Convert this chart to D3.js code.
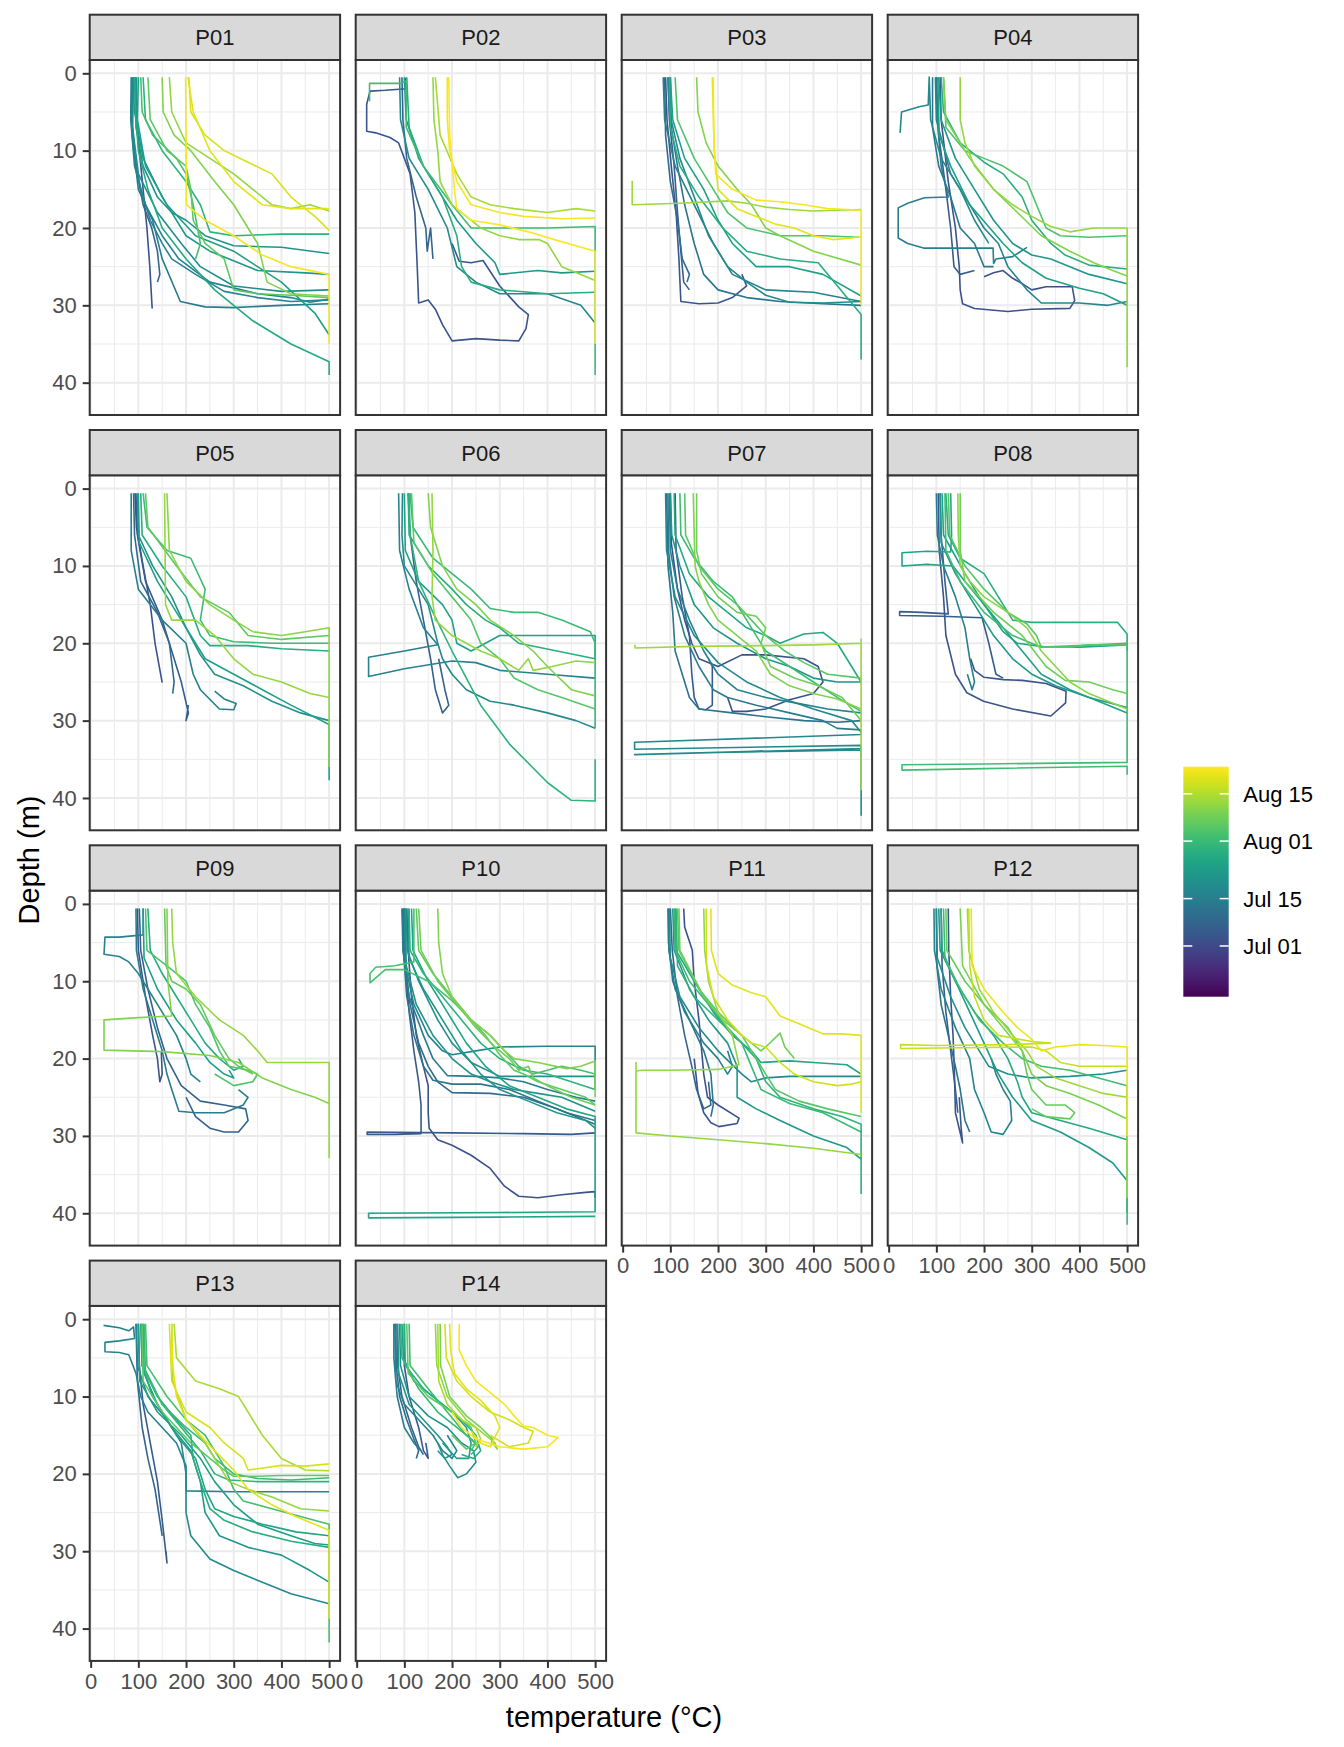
<!DOCTYPE html>
<html><head><meta charset="utf-8">
<script src="https://cdn.jsdelivr.net/npm/d3@7"></script>
<style>body{margin:0;background:#fff}svg{display:block}text{font-family:"Liberation Sans",Arial,sans-serif}</style>
</head><body><svg id="c" width="1344" height="1747"></svg>
<script>
const panelNames = ["P01","P02","P03","P04","P05","P06","P07","P08","P09","P10","P11","P12","P13","P14"];
const xTicks = [0,100,200,300,400,500];
const xMinor = [50,150,250,350,450];
const yTicks = [0,10,20,30,40];
const yMinor = [5,15,25,35];
const dateRange = ["06-16","08-23"];
const legendTicks = ["07-01","07-15","08-01","08-15"];

// each profile: [date (MM-DD), [[temperature, depth], ...]]
const P01 = [
 ["07-03",[[93,0.5],[95,5],[102,10],[110,15],[118,20],[124,25],[129,30.4]]],
 ["07-09",[[88,0.5],[86,6],[95,12],[110,17],[128,20],[140,23],[145,26],[140,27]]],
 ["07-14",[[88,0.5],[87,8],[100,15],[130,19],[150,24],[188,29.5],[240,30.2],[300,30.3],[400,30],[500,29.8]]],
 ["07-16",[[85,0.5],[84,6],[92,12],[115,17],[150,21],[185,24],[250,27],[350,28.5],[420,29],[460,29.6],[500,29.2]]],
 ["07-17",[[87,0.5],[86,5],[90,10],[105,15],[125,19],[150,22],[170,24],[220,26],[280,28.2],[350,29],[420,29.5],[500,29.3]]],
 ["07-19",[[90,0.5],[88,7],[100,13],[140,18],[190,22],[230,25],[300,27.5],[400,28.2],[500,28]]],
 ["07-21",[[96,0.5],[95,7],[110,12],[140,16],[170,18],[200,19],[240,21],[300,22.3],[400,22.5],[500,23.3]]],
 ["07-22",[[95,0.5],[92,5],[110,11],[150,16],[200,21],[250,23],[350,25.5],[450,25.8],[500,26]]],
 ["07-24",[[100,0.5],[98,6],[115,12],[160,17],[220,21],[300,23],[400,27],[470,31],[500,33.8]]],
 ["07-27",[[92,0.5],[94,5],[100,10],[120,15],[150,20],[200,24],[260,28],[340,32],[420,35],[500,37.3],[500,39]]],
 ["07-30",[[110,0.5],[115,6],[150,10],[200,14],[230,17],[250,20.5],[300,21],[400,20.8],[500,20.8]]],
 ["08-03",[[105,0.5],[108,5],[130,8],[180,11],[200,13],[215,17],[230,22],[220,24]]],
 ["08-06",[[120,0.5],[125,6],[160,10],[200,12],[210,15],[215,19],[240,22],[280,24],[300,28],[350,28.5],[420,28.7],[500,29]]],
 ["08-10",[[150,0.5],[152,5],[175,8],[210,10],[260,14],[300,17],[330,20],[350,22],[370,27],[420,28.5],[500,28.8]]],
 ["08-12",[[165,0.5],[170,5],[200,9],[250,11],[300,13],[340,15],[380,17],[420,17.5],[460,17],[500,17.8]]],
 ["08-19",[[206,0.5],[210,5],[240,8],[280,10],[330,11.5],[380,13],[420,16],[470,18.5],[500,20.3]]],
 ["08-20",[[204,0.5],[215,5],[250,10],[300,14],[360,17],[420,17.5],[470,17.5],[500,17.5]]],
 ["08-22",[[199,0.5],[200,8],[201,17],[240,19],[300,21],[360,23.5],[420,25],[500,26],[500,35]]]
];
const P02 = [
 ["07-04",[[102,0.6],[104,2],[60,2.2],[28,2.3],[21,4],[21,7.5],[40,7.7],[70,8.3],[88,9],[100,11],[112,13],[122,18],[127,25],[130,29.7],[150,29.3],[165,30.5],[180,32.5],[200,34.6],[250,34.3],[300,34.5],[340,34.6],[355,33],[360,31.2],[340,30.2],[300,27.5],[265,24.2],[240,24.5],[215,24.3],[200,22]]],
 ["07-08",[[95,0.5],[97,6],[105,11],[125,16],[145,20],[148,23],[155,20],[160,24]]],
 ["07-18",[[90,0.5],[92,6],[110,11],[150,15],[190,20],[210,25],[250,27],[300,28.5],[400,28.5],[470,30],[500,32.3]]],
 ["07-22",[[100,0.5],[104,6],[130,11],[170,15],[210,19],[250,22],[290,24.5],[300,26],[380,25.5],[430,25.8],[500,25.6]]],
 ["07-28",[[105,0.5],[110,7],[140,12],[180,16],[210,21],[220,25],[240,27],[300,28],[400,28.5],[500,28.3]]],
 ["08-02",[[27,3.6],[27,1.3],[60,1.3],[92,1.3],[104,1],[104,7],[140,12],[200,17],[240,20],[300,20],[400,20],[500,19.8],[500,39]]],
 ["08-12",[[160,0.5],[162,6],[170,10],[175,14],[200,17],[260,20],[300,21],[340,21.5],[382,21.5],[400,22],[430,25],[470,26],[500,26.8]]],
 ["08-14",[[165,0.5],[175,8],[210,13],[240,16],[280,17],[330,17.5],[400,18],[460,17.5],[500,17.8]]],
 ["08-22",[[190,0.5],[190,6],[195,10],[210,14],[240,17],[300,18],[350,18.5],[430,18.8],[500,18.7]]],
 ["08-23",[[193,0.5],[195,8],[205,15],[210,17.5],[240,19],[300,19.6],[360,20.5],[420,21.6],[500,23],[500,35]]]
];
const P03 = [
 ["07-04",[[90,0.5],[93,6],[102,12],[112,18],[118,24],[122,29.5],[160,29.8],[200,29.7],[230,29],[260,27.5],[250,26]]],
 ["07-06",[[95,0.5],[98,6],[108,12],[115,18],[122,23],[128,27],[140,28]]],
 ["07-10",[[88,0.5],[90,8],[100,14],[115,19],[125,24],[140,26],[135,27]]],
 ["07-12",[[100,0.5],[102,7],[115,12],[130,17],[150,22],[170,26],[200,28],[260,29],[330,29.5],[420,29.8],[500,30]]],
 ["07-16",[[85,0.5],[88,6],[110,12],[150,17],[190,22],[230,26],[300,28],[400,28.3],[500,29.5]]],
 ["07-18",[[95,0.5],[98,5],[120,11],[150,16],[180,21],[220,25],[260,27],[300,28.7],[350,29.6],[420,29.7],[500,29.5]]],
 ["07-24",[[100,0.5],[105,6],[130,11],[170,15],[200,19],[230,22],[280,25],[350,25],[420,26],[500,28.8]]],
 ["07-28",[[98,0.5],[100,7],[120,12],[160,16],[210,20],[260,23],[330,24],[410,24.5],[500,31.2],[500,37]]],
 ["08-04",[[110,0.5],[115,6],[150,11],[190,15],[220,18],[260,20],[330,21],[420,21],[495,21.2]]],
 ["08-10",[[155,0.5],[158,5],[175,9],[200,12],[240,15],[270,17],[300,20],[330,21],[400,23],[500,24.8]]],
 ["08-13",[[20,13.9],[20,17],[120,16.8],[220,16.5],[260,16.8],[300,17.3],[350,17.6],[400,17.8],[500,17.6]]],
 ["08-20",[[188,0.5],[192,10],[200,15],[240,17.5],[280,18.5],[320,19.5],[360,20],[400,21],[440,21.5],[480,21.3],[500,21.1]]],
 ["08-22",[[190,0.5],[191,8],[195,13],[230,15],[280,16.4],[330,16.6],[380,17],[430,17.5],[500,17.7],[500,30]]]
];
const P04 = [
 ["07-03",[[108,0.5],[110,6],[125,14],[140,20],[148,25],[150,28],[155,29.8],[180,30.4],[250,30.8],[300,30.5],[380,30.4],[390,29.4],[385,27.6],[330,27.6],[300,28],[280,27.2],[260,26.5],[240,25.5],[220,25.8],[200,26.3]]],
 ["07-06",[[100,0.5],[105,8],[120,15],[130,20],[137,25],[150,26],[180,25.5]]],
 ["07-13",[[92,0.5],[92,7],[105,12],[130,16],[150,20],[180,22],[200,25],[220,25]]],
 ["07-15",[[100,0.5],[102,6],[110,12],[125,16],[75,16.1],[40,16.8],[20,17.4],[20,21.3],[40,22],[73,22.6],[150,22.6],[219,22.6],[220,24.6],[225,24],[260,23.7],[290,22.5]]],
 ["07-17",[[98,0.5],[100,6],[130,13],[170,17],[200,20],[230,22],[250,25],[290,28],[320,29.7],[400,29.7],[460,30],[500,29.5]]],
 ["07-18",[[24,7.7],[27,5],[66,4.3],[83,4.1],[85,0.5],[88,6],[110,11],[150,15],[180,19],[210,22]]],
 ["07-22",[[105,0.5],[110,6],[140,11],[180,15],[220,19],[260,22],[300,23.5],[340,24],[420,26],[500,27.2]]],
 ["07-25",[[103,0.5],[106,8],[130,12],[170,17],[240,22],[280,24.5],[330,26.5],[400,27.8],[450,28.5],[500,30]]],
 ["07-29",[[110,0.5],[115,5],[150,9],[200,11.5],[240,13],[280,16],[300,19],[340,22],[370,23.5],[420,24.8],[500,25.3]]],
 ["08-04",[[115,0.5],[120,7],[160,10],[200,11],[240,12],[290,14],[310,17],[330,20],[360,21],[420,21.2],[500,21]]],
 ["08-10",[[115,0.5],[120,6],[170,11],[220,15],[270,18],[320,21],[380,23],[430,24.5],[470,25.5],[500,26.2]]],
 ["08-12",[[150,0.5],[150,6],[160,9],[180,12],[220,15],[260,17],[300,18.5],[340,19.8],[380,20.5],[430,20],[500,20],[500,38]]]
];
const P05 = [
 ["07-03",[[93,0.6],[96,5],[110,10],[125,15],[135,20],[150,25.1]]],
 ["07-06",[[95,0.6],[98,6],[115,12],[150,17],[170,21],[190,25],[205,29],[200,30],[205,28]]],
 ["07-09",[[90,0.6],[92,6],[105,12],[140,16],[165,20],[175,25],[172,26.5]]],
 ["07-15",[[85,0.6],[85,8],[100,13],[150,17],[200,20],[215,24],[230,26],[270,28.5],[300,28.6],[305,27.8],[280,27.2],[260,26.2]]],
 ["07-20",[[98,0.6],[100,6],[130,10],[170,14],[200,18],[230,21.5],[260,24],[320,25.5],[380,27.5],[440,29],[500,30]]],
 ["07-25",[[100,0.6],[102,7],[140,12],[180,16],[220,20],[240,22],[300,24],[360,26],[420,28],[500,30.5],[500,37.7]]],
 ["07-28",[[105,0.6],[108,6],[150,10],[200,14],[230,19],[250,20.3],[330,20.3],[400,20.7],[500,21]]],
 ["08-02",[[110,0.6],[118,5],[160,8],[210,9],[240,13],[230,17],[250,19],[300,19.8],[380,20],[500,20]]],
 ["08-06",[[115,0.6],[120,5],[180,10],[230,14],[290,16],[330,19],[400,19.5],[500,19]]],
 ["08-11",[[160,0.6],[165,8],[200,12],[250,15],[300,17],[340,18.5],[400,19],[450,18.5],[500,18],[500,36]]],
 ["08-12",[[155,0.6],[156,8],[157,15],[170,17],[220,17],[260,19],[300,22],[340,24],[400,25],[460,26.5],[500,27]]]
];
const P06 = [
 ["07-07",[[108,0.6],[112,6],[125,12],[140,17],[155,22],[165,26],[180,29],[193,28],[185,26],[172,22]]],
 ["07-16",[[88,0.6],[90,8],[110,13],[140,18],[170,20.2],[100,21],[25,21.8],[25,24.3],[100,23.3],[200,22.3],[250,22.5],[300,23.5],[400,24],[500,24.5]]],
 ["07-18",[[96,0.6],[95,6],[100,10],[130,13],[150,15],[170,20],[180,22],[200,24],[230,26],[280,27.5],[330,28],[400,29],[460,30],[500,31]]],
 ["07-25",[[100,0.6],[102,8],[130,12],[180,15],[200,17],[210,20],[240,21],[300,19],[400,19],[500,19],[500,22]]],
 ["07-29",[[108,0.6],[110,6],[150,10],[200,13],[230,15],[270,17],[300,18],[340,20],[420,21],[500,22]]],
 ["07-30",[[110,0.6],[112,6],[130,12],[160,16],[200,21],[260,28],[320,33],[400,38],[450,40.3],[500,40.4],[500,35]]],
 ["08-01",[[112,0.6],[118,5],[160,9],[200,11],[240,13],[280,15.5],[330,16],[380,16],[430,17],[490,18.5],[500,20],[500,31]]],
 ["08-05",[[115,0.6],[120,7],[160,11],[200,14],[240,17],[260,20],[300,22],[330,24.5],[380,26],[430,27],[500,28.5]]],
 ["08-10",[[150,0.6],[155,5],[180,10],[210,13],[250,15],[280,17],[330,19],[370,21],[400,23],[450,26],[500,26.8]]],
 ["08-12",[[158,0.6],[160,8],[158,14],[165,17],[200,19],[260,21],[300,22],[340,23.5],[360,22],[370,23.5],[410,23],[460,22.3],[500,22.5]]]
];
const P07 = [
 ["07-03",[[100,0.6],[102,7],[115,13],[130,17],[145,20],[160,22],[200,23],[250,21.5],[300,21.5],[380,22],[410,23],[420,25],[400,26.5],[350,27.3],[300,28.5],[260,28.8],[230,28.8],[220,27]]],
 ["07-05",[[110,0.6],[112,8],[125,14],[140,19],[145,24],[150,27],[160,28.5],[174,28.6],[188,28],[188,23],[180,22]]],
 ["07-12",[[92,0.6],[95,10],[105,16],[110,21],[125,24],[140,27],[160,28.5],[230,29],[300,29.5],[380,30],[450,30.2],[500,30]]],
 ["07-14",[[95,0.6],[96,8],[108,14],[130,19],[160,23],[190,26],[220,27],[280,28],[350,29],[420,30],[450,31],[500,31.2]]],
 ["07-16",[[98,0.6],[100,8],[115,13],[140,17],[170,21],[200,24],[240,26],[300,27],[370,27.8],[430,28.5],[500,29]]],
 ["07-18",[[90,0.6],[92,8],[110,14],[150,19],[200,22.5],[260,25],[330,27],[400,28.5],[480,30],[500,31.5],[500,31.8],[25,32.8],[25,33.7],[500,33.2],[500,33.6],[25,34.4],[200,34.1],[500,33.8],[500,42.3]]],
 ["07-22",[[100,0.6],[103,6],[120,10],[150,15],[190,18],[240,20],[300,22],[350,23],[400,24.5],[450,25],[490,25],[500,25]]],
 ["07-27",[[108,0.6],[110,6],[140,11],[180,14],[220,16],[260,18],[300,19],[330,20],[350,19.5],[380,18.8],[420,18.6],[450,20],[470,22],[490,24],[500,25]]],
 ["08-02",[[120,0.6],[122,6],[150,9],[190,12],[230,14],[260,17],[280,19],[300,21],[350,23],[400,25],[450,27],[500,28.8]]],
 ["08-05",[[130,0.6],[132,6],[160,10],[200,13],[240,15],[270,17],[300,19],[340,21],[380,22.5],[430,24],[500,24.5]]],
 ["08-08",[[155,0.6],[155,8],[165,11],[200,14],[240,16],[280,16.5],[300,18],[290,20],[310,23],[360,24.5],[410,25.5],[460,27],[500,30]]],
 ["08-10",[[148,0.6],[150,6],[152,10],[160,12],[180,15],[200,17],[240,19],[280,21],[310,24],[350,25.5],[400,26.5],[450,27.2],[500,28.5]]],
 ["08-13",[[26,20.2],[26,20.6],[150,20.4],[300,20.3],[400,20.2],[500,20],[500,19.5],[500,39]]]
];
const P08 = [
 ["07-04",[[104,0.6],[106,8],[115,14],[120,19],[140,24],[164,26.4],[199,27.5],[260,28.5],[340,29.4],[371,27.7],[372,26.2],[330,25.2],[280,24.8],[241,24.7],[200,24.4],[180,23.5],[172,22]]],
 ["07-06",[[108,0.6],[110,6],[118,12],[125,16.2],[70,16],[23,15.9],[23,16.4],[110,16.5],[196,16.7],[210,20],[225,24],[240,24.5]]],
 ["07-15",[[100,0.6],[102,6],[115,10],[140,14],[160,18],[170,22],[180,25],[175,26],[165,24]]],
 ["07-22",[[108,0.6],[110,7],[140,11],[180,15],[220,19],[260,22],[300,24],[350,25.5],[420,27],[500,28.3]]],
 ["07-25",[[112,0.6],[115,6],[160,11],[200,15],[240,18],[280,21],[320,24],[380,26],[440,27.5],[500,29]]],
 ["07-26",[[130,0.6],[132,6],[130,8.2],[80,8.1],[28,8.3],[28,10],[80,9.8],[135,10],[160,12],[200,15],[240,18.5],[270,20],[330,20.5],[400,20.5],[500,20.2]]],
 ["07-29",[[120,0.6],[125,6],[150,9],[200,11],[230,14],[260,17],[300,17.3],[380,17.3],[480,17.3],[500,18.8],[500,21]]],
 ["08-02",[[118,0.6],[120,8],[150,12],[200,16],[260,19],[320,20.5],[400,20.3],[500,20],[500,35.4],[200,35.6],[28,35.7],[28,36.4],[200,36.2],[500,35.9],[500,37]]],
 ["08-05",[[125,0.6],[128,6],[160,10],[200,13],[250,16],[290,17.5],[310,19],[320,20.5],[380,20.5],[420,20.2],[500,20.2]]],
 ["08-08",[[150,0.6],[150,8],[160,12],[220,16],[280,19],[330,23],[370,24.8],[420,25],[470,26],[500,26.5]]],
 ["08-11",[[145,0.6],[146,6],[150,10],[170,12],[200,14],[250,16],[290,18],[320,21],[350,23],[380,25],[420,26.5],[460,27.5],[500,28.5]]]
];
const P09 = [
 ["07-04",[[98,0.6],[100,6],[115,12],[130,17],[140,20],[145,23],[150,22],[148,19]]],
 ["07-07",[[102,0.6],[105,6],[120,11],[140,16],[160,20],[190,23.5],[230,25.5],[280,26],[325,26.5],[330,28],[310,29.5],[280,29.5],[250,29],[220,27.5],[200,25]]],
 ["07-14",[[95,0.6],[96,6],[110,11],[130,15],[150,19],[160,22],[170,24],[185,26.8],[220,27],[280,27],[320,26],[330,25],[310,24]]],
 ["07-16",[[110,0.6],[110,4],[60,4.3],[30,4.3],[28,6.5],[60,6.8],[80,7.5],[100,9],[120,11],[150,14],[180,17],[200,20],[210,22],[230,23]]],
 ["07-24",[[110,0.6],[112,7],[140,11],[180,15],[220,18],[250,20.5],[280,22],[300,22.5],[290,21.5]]],
 ["07-28",[[120,0.6],[125,6],[150,9],[180,12],[210,15],[240,18],[270,20],[300,21.5],[320,21],[310,20]]],
 ["08-04",[[115,0.6],[118,6],[160,8],[200,10],[220,13],[250,16],[270,19],[290,21],[330,21.5],[350,22],[340,23],[300,23.5],[260,22]]],
 ["08-07",[[155,0.6],[158,8],[170,10],[200,11],[230,13],[260,17],[290,20],[310,21],[340,22]]],
 ["08-10",[[160,0.6],[162,10],[170,14.5],[100,14.7],[28,15],[28,18.9],[150,19.1],[250,19.6],[310,20.5],[360,22.5],[420,24],[470,25],[500,25.8]]],
 ["08-12",[[170,0.6],[172,5],[180,9],[220,12],[270,15],[320,17],[350,19],[370,20.5],[430,20.5],[500,20.5],[500,25],[500,32.9]]]
];
const P10 = [
 ["07-03",[[105,0.6],[108,6],[115,12],[125,17],[140,21],[150,23.5],[150,27],[152,29],[170,30.5],[200,31.2],[240,32.5],[280,34.2],[310,36.5],[340,37.8],[380,38],[430,37.6],[480,37.3],[500,37.2],[500,38]]],
 ["07-05",[[100,0.6],[102,8],[110,14],[120,19],[130,23],[135,26],[135,29.7],[80,29.8],[22,29.8],[22,29.5],[200,29.6],[350,29.7],[450,29.8],[500,29.6]]],
 ["07-10",[[98,0.6],[100,7],[112,13],[130,18],[150,21],[170,23],[200,24.4],[280,24.5],[350,25],[420,26.5],[500,28.5]]],
 ["07-12",[[96,0.6],[98,6],[105,12],[120,17],[140,21],[160,22.8],[200,23.3],[260,23.3],[320,24],[380,25.5],[440,27],[500,28]]],
 ["07-14",[[95,0.6],[97,6],[110,12],[140,17],[160,20],[190,22.2],[250,22.3],[300,22.5],[350,23],[400,24],[460,25],[500,25.5]]],
 ["07-17",[[100,0.6],[102,8],[120,13],[150,17],[180,19],[200,19.5],[250,19],[300,18.5],[400,18.4],[500,18.4],[500,24]]],
 ["07-19",[[104,0.6],[106,6],[130,10],[170,15],[200,18],[240,20.5],[300,22.3],[400,22.3],[500,22.3]]],
 ["07-20",[[102,0.6],[104,8],[125,13],[160,17],[200,20],[240,22],[280,23],[330,24],[380,24.5],[430,25],[500,26.8]]],
 ["07-22",[[108,0.6],[110,7],[140,11],[180,15],[220,19],[260,22],[300,24],[360,25.5],[420,27],[480,28],[500,29]]],
 ["07-26",[[115,0.6],[118,6],[150,10],[190,14],[230,18],[270,21],[320,23.5],[380,25],[440,26.5],[500,27.5],[500,39.8],[300,39.9],[25,40.0],[25,40.6],[300,40.5],[500,40.4]]],
 ["07-30",[[110,0.6],[112,6],[140,9],[180,12],[220,15],[260,18],[300,20],[350,21.5],[400,22],[450,23],[500,24]]],
 ["08-03",[[120,0.6],[120,7.5],[80,8],[40,8.2],[28,9],[28,10.2],[60,8.5],[100,8.5],[150,10],[200,12.5],[240,15],[280,17],[310,19],[340,21],[370,22],[400,21.5],[430,21],[470,21.5],[500,22]]],
 ["08-06",[[125,0.6],[130,6],[160,9],[200,12],[240,15],[270,17],[300,19.5],[330,21.5],[350,22],[380,23],[430,24],[480,25],[500,26]]],
 ["08-08",[[130,0.6],[135,6],[170,10],[210,13],[250,16],[290,18.5],[320,20],[340,21.5],[360,21],[370,22.5],[400,23.5],[450,25],[500,26]]],
 ["08-10",[[170,0.6],[172,5],[180,9],[200,12],[240,15],[280,17],[310,19],[330,20],[380,20.5],[440,21.3],[470,21],[500,20.3],[500,25]]]
];
const P11 = [
 ["07-03",[[128,0.6],[130,3],[146,6],[150,10],[160,15],[170,22],[178,25],[200,26],[244,27.7],[240,28.4],[202,28.8],[185,28.3],[170,27],[158,24.5],[150,20]]],
 ["07-08",[[100,0.6],[104,6],[115,12],[130,17],[145,21],[155,24],[170,26.5],[185,26],[180,23]]],
 ["07-12",[[96,0.6],[97,6],[110,11],[140,15],[170,19],[185,22],[190,26],[185,27.5]]],
 ["07-15",[[95,0.6],[96,5],[105,10],[130,14],[170,18],[200,20],[220,22],[230,21],[220,19]]],
 ["07-18",[[98,0.6],[100,7],[120,12],[160,16],[200,19],[250,22],[270,23],[300,22.5],[350,22.3],[420,22.3],[500,22.3]]],
 ["07-22",[[105,0.6],[108,6],[140,11],[180,15],[220,18],[240,21],[240,25],[280,26.5],[330,28],[400,30],[470,31.5],[500,33]]],
 ["07-26",[[110,0.6],[112,6],[150,10],[190,14],[230,17],[270,19],[290,20.5],[350,20.3],[400,20.5],[470,20.8],[500,22]]],
 ["07-30",[[112,0.6],[115,8],[150,12],[200,15],[250,18],[280,20],[300,23],[330,25],[400,26.5],[460,27.5],[500,28.5],[500,37.5]]],
 ["08-01",[[108,0.6],[110,6],[140,10],[180,13],[220,16],[250,18],[270,21],[290,24],[350,25.8],[420,27],[500,29.5]]],
 ["08-05",[[115,0.6],[118,6],[160,11],[200,14],[250,17],[280,20],[300,22],[320,24],[370,25.5],[430,26.5],[500,27.5]]],
 ["08-08",[[118,0.6],[120,6],[170,12],[210,15],[260,17.5],[290,19],[300,18.5],[330,16.7],[340,18.5],[360,20]]],
 ["08-12",[[170,0.6],[172,6],[180,10],[200,14],[230,17],[244,20.8],[200,21.4],[100,21.5],[40,21.5],[28,21.6],[28,20.5],[28,29.6],[100,30],[200,30.5],[300,31],[400,31.6],[500,32.4]]],
 ["08-18",[[175,0.6],[176,8],[190,12],[220,15],[250,17],[270,18],[300,18.5],[330,20.5],[360,22],[400,23],[450,23.5],[480,23.3],[500,23]]],
 ["08-20",[[185,0.6],[186,6],[200,9],[230,10.5],[270,11.5],[300,12],[330,14.5],[370,15.5],[420,16.8],[460,16.8],[500,17],[500,27]]]
];
const P12 = [
 ["07-04",[[125,0.6],[126,6],[130,12],[135,17],[138,22],[140,27],[155,30.9],[152,29],[148,25]]],
 ["07-06",[[110,0.6],[112,8],[120,14],[130,19],[140,24],[145,27]]],
 ["07-11",[[100,0.6],[101,8],[110,13],[125,17],[140,21],[150,24],[160,28],[170,29.5]]],
 ["07-16",[[95,0.6],[96,6],[110,11],[140,16],[170,20],[180,24],[200,27],[215,29.5],[240,29.8],[258,28],[255,25.5],[240,24],[225,22],[215,20]]],
 ["07-19",[[100,0.6],[102,7],[130,12],[160,16],[190,19],[210,21],[250,22],[300,22.5],[380,22.3],[450,22],[500,21.5]]],
 ["07-23",[[105,0.6],[108,6],[140,10],[170,14],[200,18],[230,22],[260,25],[300,28],[360,29.5],[420,31.5],[470,33.5],[500,35.8],[500,40]]],
 ["07-27",[[110,0.6],[112,6],[140,10],[180,14],[220,17],[250,20],[270,23],[280,25],[300,27],[360,28],[420,29],[500,30.5]]],
 ["08-02",[[115,0.6],[118,7],[150,11],[190,15],[240,18],[280,20],[320,21],[380,21.5],[440,22.5],[500,23.5],[500,41.5]]],
 ["08-07",[[120,0.6],[122,6],[160,10],[200,13],[250,16],[280,19],[290,22],[300,24],[330,26],[370,26],[390,27],[380,27.8],[330,27.5],[300,26.5]]],
 ["08-09",[[150,0.6],[155,8],[200,13],[240,16],[280,19],[300,22],[330,23.5],[380,24.5],[440,26],[500,27.8]]],
 ["08-13",[[165,0.6],[168,6],[190,11],[220,14],[260,17],[290,19],[310,21],[350,22.5],[400,23.5],[450,24.5],[500,25],[500,38]]],
 ["08-17",[[168,0.6],[170,8],[180,12],[200,15],[230,17],[300,17.8],[340,18],[250,18.2],[100,18.3],[25,18.2],[25,18.7],[150,18.6],[300,18.5],[330,19],[360,20.5],[400,21],[450,21],[500,21]]],
 ["08-21",[[173,0.6],[175,8],[200,11],[240,14],[270,16],[300,17.5],[320,19],[350,18.5],[400,18.2],[450,18.3],[500,18.5],[500,30]]]
];
const P13 = [
 ["07-05",[[100,0.6],[102,6],[110,11],[125,16],[140,21],[150,26],[160,31.5],[158,30]]],
 ["07-08",[[95,0.6],[98,8],[108,14],[120,18],[135,22],[145,26],[150,28]]],
 ["07-16",[[27,0.8],[60,1.1],[80,1.5],[90,1],[92,2.5],[60,2.8],[30,3],[30,4.2],[60,4.3],[80,4.6],[95,7],[105,10],[120,12],[150,14],[180,16],[200,19],[200,22.2],[300,22.3],[400,22.3],[500,22.3]]],
 ["07-18",[[96,0.6],[98,6],[120,10],[160,13],[190,16],[200,20],[200,25],[210,28],[250,31],[300,32.5],[360,34],[420,35.5],[500,36.8]]],
 ["07-22",[[105,0.6],[108,6],[130,10],[170,14],[210,17],[230,21],[240,25],[270,28],[330,29.5],[400,30.5],[460,32.5],[500,34]]],
 ["07-24",[[100,0.6],[103,8],[140,12],[190,15],[230,18],[260,21],[300,24],[350,26.5],[420,28],[470,29],[500,29.2]]],
 ["07-26",[[110,0.6],[112,7],[140,11],[180,15],[220,18],[240,22],[260,24.5],[300,25.5],[360,26.5],[430,27.5],[500,28]]],
 ["07-28",[[106,0.6],[108,6],[140,10],[180,13],[210,15],[215,18],[230,21],[250,24.5],[280,26],[340,27.5],[420,28.7],[500,29.5]]],
 ["07-30",[[108,0.6],[110,6],[150,11],[190,14],[230,17],[260,20],[290,20.8],[350,21],[420,21],[500,21]]],
 ["08-01",[[112,0.6],[115,7],[150,11],[200,14],[240,16],[260,18],[300,20],[350,20.6],[420,20.8],[500,20.5]]],
 ["08-03",[[115,0.6],[118,6],[160,10],[200,13],[240,15],[260,17],[280,19],[300,22],[320,23.5],[380,24.5],[440,25.5],[500,26.5],[500,41.8]]],
 ["08-06",[[108,0.6],[110,8],[150,12],[210,16],[250,18],[280,19.5],[300,20.3],[350,20.3],[400,20.2],[460,20.2],[500,20.2]]],
 ["08-12",[[170,0.6],[172,8],[200,13],[240,16],[270,19],[290,21],[330,22],[380,23],[440,24.5],[500,24.8]]],
 ["08-14",[[175,0.6],[180,5],[220,8],[270,9],[310,10],[330,12],[360,15],[400,18],[450,19.5],[500,19.6]]],
 ["08-19",[[165,0.6],[170,8],[200,12],[250,14],[280,16],[320,18],[330,19.5],[400,18.9],[450,19],[500,18.7]]],
 ["08-20",[[170,0.6],[172,6],[180,10],[200,13],[230,15],[260,17],[300,19.5],[330,22],[380,24],[430,25.5],[500,27.3],[500,38.7]]]
];
const P14 = [
 ["07-05",[[100,0.6],[100,6],[110,10],[130,14],[140,17],[150,18],[145,16]]],
 ["07-08",[[85,0.6],[86,6],[95,10],[115,14],[130,16.5],[140,17.5]]],
 ["07-10",[[82,0.6],[83,6],[90,10],[105,13],[120,15.5],[130,17],[125,18]]],
 ["07-14",[[78,0.6],[78,5],[85,10],[100,14],[120,16],[135,17]]],
 ["07-16",[[80,0.6],[82,8],[100,11],[130,13],[160,15],[180,17],[200,18],[210,17],[190,15]]],
 ["07-20",[[90,0.6],[92,6],[110,10],[150,12.5],[190,14],[220,16],[245,17],[250,18.5],[230,20],[212,20.5],[195,19],[180,17.5],[170,16]]],
 ["07-22",[[86,0.6],[88,7],[110,11],[140,13],[170,15],[190,16.5],[200,17.5],[185,18],[170,17]]],
 ["07-24",[[95,0.6],[98,5],[120,8],[160,10],[200,12],[230,14],[240,16],[235,18],[210,18],[180,16]]],
 ["07-28",[[100,0.6],[102,6],[140,9],[180,11],[220,13],[250,15],[260,17],[245,18],[220,17.5]]],
 ["07-31",[[92,0.6],[95,5],[130,9],[170,12],[210,14],[240,15.5],[255,16.5],[240,17.5]]],
 ["08-02",[[110,0.6],[112,6],[150,9],[190,12],[230,15],[250,16],[240,17]]],
 ["08-06",[[105,0.6],[108,7],[150,10],[200,12],[240,14],[250,16],[230,16.8],[200,15]]],
 ["08-09",[[175,0.6],[176,6],[195,10],[230,12.5],[260,14],[285,15.5],[280,16.5]]],
 ["08-12",[[165,0.6],[168,6],[190,10],[230,13],[270,15],[290,16],[295,16.8],[285,16]]],
 ["08-14",[[170,0.6],[172,8],[190,11],[220,13],[250,14],[260,15.5],[250,16.5]]],
 ["08-18",[[185,0.6],[188,5],[210,8],[240,10],[280,12],[320,13],[350,14],[370,14.5],[360,16],[320,16.5],[280,15]]],
 ["08-20",[[195,0.6],[197,4],[205,7],[230,9],[260,10.5],[290,12.5],[300,14],[280,16.5],[260,16],[240,14.5]]],
 ["08-22",[[215,0.6],[215,4],[230,6],[250,8],[280,9.5],[310,11],[330,12.5],[350,13.8],[370,14],[400,15],[422,15.3],[400,16.5],[350,16.8],[300,16.5],[250,15.5],[220,14],[200,12]]]
];
const profilesByPanel = {P01,P02,P03,P04,P05,P06,P07,P08,P09,P10,P11,P12,P13,P14};

// ---------- drawing ----------
const parseDate = d3.timeParse("%Y-%m-%d");
const toDate = s => parseDate("2019-" + s);
const svg = d3.select("#c");
const FONT = '"Liberation Sans",Arial,sans-serif';

const colPitch = 266, left0 = 89.7, pW = 250.4;
const rowPitch = 415.3, top0 = 14.7, stripH = 45.3, pH = 355;
const x = d3.scaleLinear().domain([-2, 523]).range([0, pW]);
const y = d3.scaleLinear().domain([-1.72, 44.18]).range([0, pH]);
const color = d3.scaleSequential(d3.interpolateViridis).domain(dateRange.map(toDate));
const line = d3.line().x(d => x(d[0])).y(d => y(d[1]));

panelNames.forEach((name, i) => {
  const col = i % 4, row = Math.floor(i / 4);
  const px = left0 + col * colPitch;
  const sy = top0 + row * rowPitch;
  const py = sy + stripH;
  const g = svg.append("g").attr("transform", `translate(${px},${py})`);
  g.append("rect").attr("width", pW).attr("height", pH).attr("fill", "#fff");
  g.selectAll(".xmin").data(xMinor).join("line").attr("x1", d => x(d)).attr("x2", d => x(d)).attr("y1", 0).attr("y2", pH).attr("stroke", "#EBEBEB").attr("stroke-width", 1);
  g.selectAll(".ymin").data(yMinor).join("line").attr("y1", d => y(d)).attr("y2", d => y(d)).attr("x1", 0).attr("x2", pW).attr("stroke", "#EBEBEB").attr("stroke-width", 1);
  g.selectAll(".xmaj").data(xTicks).join("line").attr("x1", d => x(d)).attr("x2", d => x(d)).attr("y1", 0).attr("y2", pH).attr("stroke", "#EBEBEB").attr("stroke-width", 2);
  g.selectAll(".ymaj").data(yTicks).join("line").attr("y1", d => y(d)).attr("y2", d => y(d)).attr("x1", 0).attr("x2", pW).attr("stroke", "#EBEBEB").attr("stroke-width", 2);
  const cid = "clip" + name;
  svg.append("clipPath").attr("id", cid).append("rect").attr("x", px).attr("y", py).attr("width", pW).attr("height", pH);
  const data = profilesByPanel[name].slice().sort((a, b) => toDate(a[0]) - toDate(b[0]));
  svg.append("g").attr("clip-path", `url(#${cid})`).append("g").attr("transform", `translate(${px},${py})`)
    .selectAll("path").data(data).join("path")
    .attr("d", d => line(d[1])).attr("fill", "none")
    .attr("stroke", d => color(toDate(d[0]))).attr("stroke-width", 1.6)
    .attr("stroke-linejoin", "round");
  svg.append("rect").attr("x", px).attr("y", py).attr("width", pW).attr("height", pH).attr("fill", "none").attr("stroke", "#333333").attr("stroke-width", 2);
  svg.append("rect").attr("x", px).attr("y", sy).attr("width", pW).attr("height", stripH).attr("fill", "#D9D9D9").attr("stroke", "#333333").attr("stroke-width", 2);
  svg.append("text").attr("x", px + pW / 2).attr("y", sy + stripH / 2 + 8).attr("text-anchor", "middle")
    .attr("font-size", 22).attr("fill", "#1A1A1A").text(name);
  if (col === 0) {
    const ya = svg.append("g").attr("transform", `translate(${px},${py})`)
      .call(d3.axisLeft(y).tickValues(yTicks).tickSize(7).tickPadding(6));
    ya.select(".domain").remove();
    ya.selectAll(".tick line").attr("stroke", "#333333").attr("stroke-width", 2);
    ya.selectAll(".tick text").attr("font-size", 22).attr("fill", "#4D4D4D").attr("font-family", FONT);
  }
  if (i + 4 >= panelNames.length) {
    const xa = svg.append("g").attr("transform", `translate(${px},${py + pH})`)
      .call(d3.axisBottom(x).tickValues(xTicks).tickSize(7).tickPadding(5));
    xa.select(".domain").remove();
    xa.selectAll(".tick line").attr("stroke", "#333333").attr("stroke-width", 2);
    xa.selectAll(".tick text").attr("font-size", 22).attr("fill", "#4D4D4D").attr("font-family", FONT);
  }
});

svg.append("text").attr("x", 614).attr("y", 1727).attr("text-anchor", "middle").attr("font-size", 29).attr("fill", "#000").text("temperature (°C)");
svg.append("text").attr("transform", "translate(39,860) rotate(-90)").attr("text-anchor", "middle").attr("font-size", 29).attr("fill", "#000").text("Depth (m)");

const lx = 1183.3, lTop = 766.7, lH = 230, lW = 45.4;
const ly = d3.scaleTime().domain(dateRange.map(toDate)).range([lTop + lH, lTop]);
const grad = svg.append("defs").append("linearGradient").attr("id", "vgrad").attr("x1", 0).attr("y1", 1).attr("x2", 0).attr("y2", 0);
d3.range(0, 1.0001, 0.05).forEach(t => grad.append("stop").attr("offset", t).attr("stop-color", d3.interpolateViridis(t)));
svg.append("rect").attr("x", lx).attr("y", lTop).attr("width", lW).attr("height", lH).attr("fill", "url(#vgrad)");
const fmt = d3.timeFormat("%b %d");
legendTicks.forEach(s => {
  const yy = ly(toDate(s));
  svg.append("line").attr("x1", lx).attr("x2", lx + 9).attr("y1", yy).attr("y2", yy).attr("stroke", "#fff").attr("stroke-width", 1.5);
  svg.append("line").attr("x1", lx + lW - 9).attr("x2", lx + lW).attr("y1", yy).attr("y2", yy).attr("stroke", "#fff").attr("stroke-width", 1.5);
  svg.append("text").attr("x", 1243.3).attr("y", yy + 8).attr("font-size", 22).attr("fill", "#000").text(fmt(toDate(s)));
});
</script></body></html>
